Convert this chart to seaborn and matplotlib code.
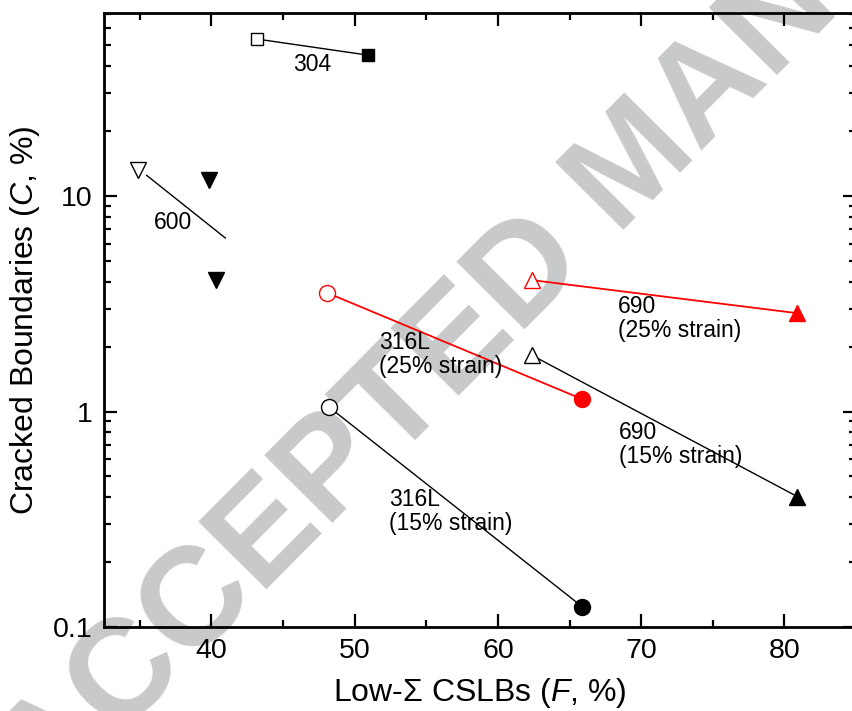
import matplotlib
matplotlib.use("Agg")
import matplotlib.pyplot as plt
import numpy as np
import pandas as pd
import seaborn as sns
from matplotlib.ticker import FixedLocator, LogLocator, NullFormatter, FixedFormatter

# data: F (%) and C (%) for the open (before) and filled (after) states
alloys = ["304", "316L_25", "316L_15", "690_25", "690_15"]
f_open = [43.2, 48.1, 48.2, 62.4, 62.4]
c_open = [53.5, 3.55, 1.05, 4.07, 1.82]
f_fill = [50.9, 65.9, 65.9, 80.9, 80.9]
c_fill = [45.1, 1.14, 0.124, 2.86, 0.403]
markers = ["s", "o", "o", "^", "^"]
colors = ["black", "red", "black", "red", "black"]

# alloy 600: one open point, two filled points, plus a guide line
f600_open = [34.85]
c600_open = [13.2]
f600_fill = [39.8, 40.35]
c600_fill = [11.9, 4.07]
f600_guide = [35.46, 40.98]
c600_guide = [12.5, 6.38]

labels = ["304", "600", "316L\n(25% strain)", "690\n(25% strain)",
          "690\n(15% strain)", "316L\n(15% strain)"]
label_f = [47.05, 37.35, 51.72, 68.4, 68.47, 52.42]
label_c = [40.97, 7.57, 1.84, 2.70, 0.703, 0.345]
label_ha = ["center", "center", "left", "left", "left", "left"]

x_ticks = [40, 50, 60, 70, 80]
y_ticks = [0.1, 1, 10]
y_ticklabels = ["0.1", "1", "10"]

sns.set_style("ticks")
plt.rcParams["font.family"] = ["Liberation Sans", "DejaVu Sans"]
plt.rcParams["mathtext.fontset"] = "custom"
plt.rcParams["mathtext.rm"] = "Liberation Sans"
plt.rcParams["mathtext.it"] = "Liberation Sans:italic"
plt.rcParams["text.color"] = "black"
plt.rcParams["axes.labelcolor"] = "black"

fig = plt.figure(figsize=(8.52, 7.11), dpi=100)
ax = fig.add_axes([104 / 852, 1 - 627 / 711, 752 / 852, 614 / 711])

# watermark, sits behind the data
ax.text(0.0547, -0.1404, "ACCEPTED MANUSCRIPT", transform=fig.transFigure,
        rotation=45.2, rotation_mode="anchor", ha="left", va="baseline",
        fontsize=101, fontweight="bold", color="#c8c9cb", zorder=0.5,
        clip_on=False)

for i, name in enumerate(alloys):
    seg = pd.DataFrame({"F": [f_open[i], f_fill[i]], "C": [c_open[i], c_fill[i]]})
    lw = 1.3 if colors[i] == "red" else 1.0
    sns.lineplot(data=seg, x="F", y="C", color=colors[i], lw=lw, ax=ax,
                 sort=False, estimator=None, zorder=2)
    ms = 9 if markers[i] == "s" else 11.5
    ax.plot(f_open[i], c_open[i], marker=markers[i], ms=ms, mfc="white",
            mec=colors[i], mew=1.0, ls="none", zorder=3)
    ax.plot(f_fill[i], c_fill[i], marker=markers[i], ms=ms, mfc=colors[i],
            mec=colors[i], mew=1.0, ls="none", zorder=3)

guide = pd.DataFrame({"F": f600_guide, "C": c600_guide})
sns.lineplot(data=guide, x="F", y="C", color="black", lw=1.0, ax=ax,
             sort=False, estimator=None, zorder=2)
ax.plot(f600_open, c600_open, marker="v", ms=12, mfc="white", mec="black",
        mew=1.0, ls="none", zorder=3)
ax.plot(f600_fill, c600_fill, marker="v", ms=12, mfc="black", mec="black",
        mew=1.0, ls="none", zorder=3)

for txt, fx, cy, ha in zip(labels, label_f, label_c, label_ha):
    ax.text(fx, cy, txt, ha=ha, va="center", fontsize=16.5, linespacing=1.05,
            color="black", zorder=4)

ax.set_yscale("log")
ax.set_xlim(32.5, 85)
ax.set_ylim(0.1, 70.7)

ax.xaxis.set_major_locator(FixedLocator(x_ticks))
ax.xaxis.set_minor_locator(FixedLocator([35, 45, 55, 65, 75, 85]))
ax.yaxis.set_major_locator(FixedLocator(y_ticks))
ax.yaxis.set_major_formatter(FixedFormatter(y_ticklabels))
ax.yaxis.set_minor_locator(LogLocator(base=10, subs=np.arange(2, 10)))
ax.yaxis.set_minor_formatter(NullFormatter())

for side in ["top", "right", "left", "bottom"]:
    ax.spines[side].set_visible(True)
    ax.spines[side].set_linewidth(2.0)
    ax.spines[side].set_color("black")

ax.tick_params(which="both", direction="in", top=True, right=True,
               labelsize=20.5, color="black", labelcolor="black")
ax.tick_params(which="major", length=9.5, width=1.6, pad=8)
ax.tick_params(which="minor", length=5, width=1.6)

ax.set_xlabel(r"Low-Σ CSLBs ($\mathit{F}$, %)", fontsize=23)
ax.set_ylabel(r"Cracked Boundaries ($\mathit{C}$, %)", fontsize=23)
ax.xaxis.set_label_coords(0.5, -0.08)
ax.yaxis.set_label_coords(-0.082, 0.5)

fig.savefig("out.png", dpi=100)
